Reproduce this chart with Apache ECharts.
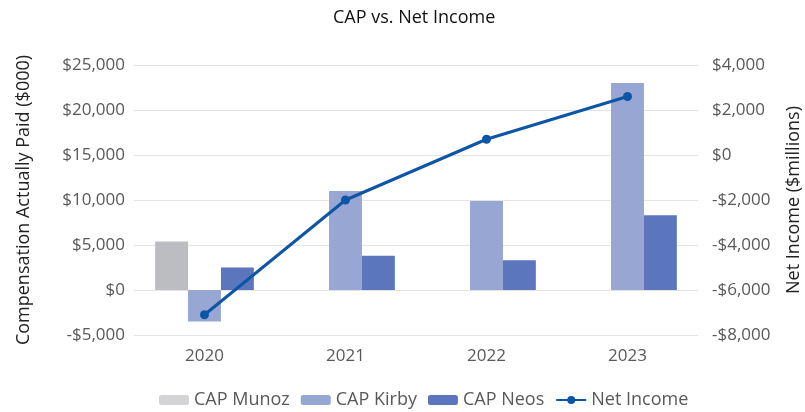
<!DOCTYPE html>
<html>
<head>
<meta charset="utf-8">
<script src="https://cdn.jsdelivr.net/npm/echarts@6/dist/echarts.min.js"></script>
<style>
  html, body { margin: 0; padding: 0; background: #fff; }
  #chart { width: 805px; height: 412px; }
</style>
</head>
<body>
<div id="chart"></div>
<script>
// Fiscal years on the category axis
const years = ['2020', '2021', '2022', '2023'];

// Compensation actually paid, $000 (null where an executive had no CAP that year)
const capMunoz = [5400, null, null, null];
const capKirby = [-3500, 11000, 9900, 23000];
const capNeos = [2500, 3800, 3300, 8300];

// Net income, $ millions
const netIncome = [-7100, -2000, 700, 2600];

const FONT = '"Open Sans", "Noto Sans", sans-serif';
const labelGrey = '#595959';

function money(v) {
  const s = '$' + Math.abs(v).toLocaleString('en-US');
  return v < 0 ? '-' + s : s;
}

const chart = echarts.init(document.getElementById('chart'));
chart.setOption({
  animation: false,
  textStyle: { fontFamily: FONT },
  title: {
    text: 'CAP vs. Net Income',
    left: 328,
    top: 4,
    textStyle: { fontFamily: FONT, fontSize: 18, fontWeight: 'normal', color: '#111' }
  },
  legend: {
    bottom: -2,
    left: 154,
    itemGap: 11,
    itemWidth: 30,
    itemHeight: 10,
    textStyle: { fontFamily: FONT, fontSize: 18, color: labelGrey },
    data: [
      { name: 'CAP Munoz', itemStyle: { color: '#d4d4d6' } },
      { name: 'CAP Kirby' },
      { name: 'CAP Neos' },
      { name: 'Net Income' }
    ]
  },
  grid: {
    left: 134, right: 107, top: 65, bottom: 77,
    containLabel: false,
    outerBoundsMode: 'none'
  },
  xAxis: {
    type: 'category',
    data: years,
    axisLine: { show: false },
    axisTick: { show: false },
    axisLabel: { color: labelGrey, fontSize: 17, margin: 13 }
  },
  yAxis: [
    {
      type: 'value',
      min: -5000,
      max: 25000,
      interval: 5000,
      name: 'Compensation Actually Paid ($000)',
      nameLocation: 'middle',
      nameGap: 101,
      nameTextStyle: { fontFamily: FONT, fontSize: 18, color: '#222' },
      axisLine: { show: false },
      axisTick: { show: false },
      axisLabel: { color: labelGrey, fontSize: 17, margin: 9, formatter: money },
      splitLine: { lineStyle: { color: '#e3e3e3', width: 1 } }
    },
    {
      type: 'value',
      min: -8000,
      max: 4000,
      interval: 2000,
      position: 'right',
      name: 'Net Income ($millions)',
      nameLocation: 'middle',
      nameGap: 87,
      nameRotate: 90,
      nameTextStyle: { fontFamily: FONT, fontSize: 18, color: '#222' },
      axisLine: { show: false },
      axisTick: { show: false },
      axisLabel: { color: labelGrey, fontSize: 17, margin: 14, formatter: money },
      splitLine: { show: false }
    }
  ],
  series: [
    {
      name: 'CAP Munoz',
      type: 'bar',
      data: capMunoz,
      barGap: '0%',
      barCategoryGap: '30%',
      itemStyle: { color: '#bcbdc1' }
    },
    {
      name: 'CAP Kirby',
      type: 'bar',
      data: capKirby,
      itemStyle: { color: '#97a6d3' }
    },
    {
      name: 'CAP Neos',
      type: 'bar',
      data: capNeos,
      itemStyle: { color: '#5b76bd' }
    },
    {
      name: 'Net Income',
      type: 'line',
      yAxisIndex: 1,
      data: netIncome,
      symbol: 'circle',
      symbolSize: 9,
      lineStyle: { color: '#0d55a5', width: 3 },
      itemStyle: { color: '#0d55a5' }
    }
  ]
});
</script>
</body>
</html>
